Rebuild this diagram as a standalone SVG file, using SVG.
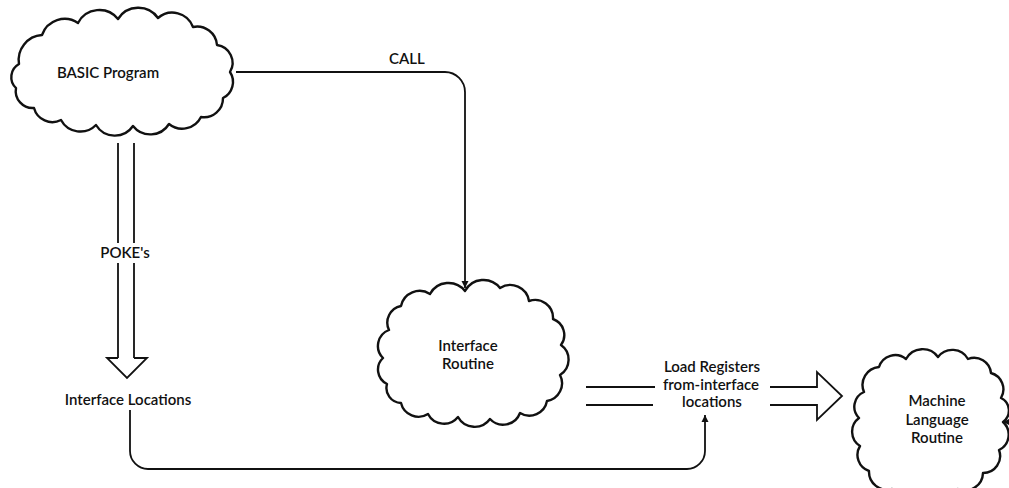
<svg xmlns="http://www.w3.org/2000/svg" width="1009" height="488" viewBox="0 0 1009 488">
  <style>
    .cloud { fill: #fff; stroke: #111; stroke-width: 2.4; stroke-linejoin: round; }
    .wire { fill: none; stroke: #111; stroke-width: 1.8; }
    .hollow { fill: #fff; stroke: #111; stroke-width: 1.8; stroke-linejoin: miter; }
    .label { font-family: "Lato", "Liberation Sans", sans-serif; font-size: 15px; font-weight: 600; fill: #111; text-anchor: middle; }
  </style>
  <defs>
    <marker id="tip" viewBox="0 0 10 10" refX="10" refY="5" markerWidth="7" markerHeight="8" markerUnits="userSpaceOnUse" orient="auto">
      <path d="M0,0 L10,5 L0,10 Z" fill="#111"/>
    </marker>
  </defs>
  <rect width="1009" height="488" fill="#fff"/>

  <!-- connectors -->
  <g id="connectors">
    <!-- CALL -->
    <path class="wire" d="M236,72 H445 A20,20 0 0 1 465,92 V288" marker-end="url(#tip)"/>
    <text class="label" x="407" y="64">CALL</text>

    <!-- POKE's: double shaft with hollow head -->
    <path class="wire" d="M118,143 V243 M134,143 V243 M118,263 V358 M134,263 V358"/>
    <path class="hollow" d="M118,358 H107 L127,378 L147,358 H134"/>
    <text class="label" x="125" y="258">POKE's</text>

    <!-- Interface Locations to register load -->
    <path class="wire" d="M130,410 V451 A18,18 0 0 0 148,469 H687 A18,18 0 0 0 705,451 V415" marker-end="url(#tip)"/>

    <!-- register load: double shaft with hollow head -->
    <path class="wire" d="M586,387 H655 M586,405 H653"/>
    <path class="hollow" d="M770,387 H817 V372 L842,396 L817,420 V405 H770"/>
    <text class="label" x="712" y="372">Load Registers</text>
    <text class="label" x="711" y="390">from-interface</text>
    <text class="label" x="712" y="407">locations</text>

    <!-- entry on the right of the machine language routine -->
    <path class="wire" d="M1015,422 H1003" marker-end="url(#tip)"/>
  </g>

  <!-- nodes -->
  <g id="basic-program">
    <path class="cloud" d="M19,64 A25,25 0 0 1 42,35 A24,24 0 0 1 78,23 A24,24 0 0 1 118,19 A24,24 0 0 1 158,18 A22,22 0 0 1 193,27 A20,20 0 0 1 217,45 A18,18 0 0 1 230,72 A18,18 0 0 1 223,98 A19,19 0 0 1 201,117 A21,21 0 0 1 169,124 A22,22 0 0 1 133,126 A22,22 0 0 1 96,125 A22,22 0 0 1 61,120 A19,19 0 0 1 34,108 A17,17 0 0 1 16,88 A15,15 0 0 1 19,64 Z"/>
    <text class="label" x="108" y="78">BASIC Program</text>
  </g>

  <g id="interface-locations">
    <text class="label" x="128" y="405">Interface Locations</text>
  </g>

  <g id="interface-routine">
    <path class="cloud" d="M389,330 A17,17 0 0 1 401,306 A19,19 0 0 1 430,294 A21,21 0 0 1 465,291 A21,21 0 0 1 500,288 A19,19 0 0 1 529,301 A18,18 0 0 1 553,319 A17,17 0 0 1 561,345 A18,18 0 0 1 560,375 A18,18 0 0 1 547,401 A18,18 0 0 1 520,413 A18,18 0 0 1 490,419 A19,19 0 0 1 458,417 A18,18 0 0 1 428,414 A18,18 0 0 1 401,403 A15,15 0 0 1 387,384 A16,16 0 0 1 383,358 A17,17 0 0 1 389,330 Z"/>
    <text class="label" x="468" y="351">Interface</text>
    <text class="label" x="468" y="369">Routine</text>
  </g>

  <g id="machine-language-routine">
    <path class="cloud" d="M864,392 A18,18 0 0 1 879,367 A17,17 0 0 1 906,359 A19,19 0 0 1 938,357 A18,18 0 0 1 968,359 A17,17 0 0 1 991,373 A17,17 0 0 1 1001,398 A14,14 0 0 1 1003,422 A17,17 0 0 1 999,450 A17,17 0 0 1 983,473 A18,18 0 0 1 958,489 A20,20 0 0 1 925,494 A20,20 0 0 1 892,489 A18,18 0 0 1 869,471 A17,17 0 0 1 860,446 A17,17 0 0 1 859,418 A16,16 0 0 1 864,392 Z"/>
    <text class="label" x="937" y="406">Machine</text>
    <text class="label" x="937" y="425">Language</text>
    <text class="label" x="937" y="443">Routine</text>
  </g>
</svg>
